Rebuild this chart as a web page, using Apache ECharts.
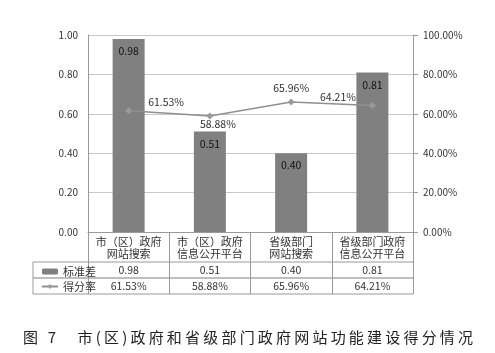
<!DOCTYPE html>
<html>
<head>
<meta charset="utf-8">
<script src="https://cdn.jsdelivr.net/npm/echarts@6/dist/echarts.min.js"></script>
<style>
body { margin: 0; background: #fff; }
#main { width: 495px; height: 353px; }
#caption {
  position: absolute; left: 23px; top: 326px;
  font-family: "Noto Sans CJK SC", sans-serif; font-size: 15px;
  letter-spacing: 3.2px; color: #222; white-space: pre;
}
</style>
</head>
<body>
<div id="main"></div>
<div id="caption">图 7　市(区)政府和省级部门政府网站功能建设得分情况</div>
<script>
// ==============================================================
// data
// ==============================================================
var categories = ['市（区）政府\n网站搜索', '市（区）政府\n信息公开平台', '省级部门\n网站搜索', '省级部门政府\n信息公开平台'];
var stdDev = [0.98, 0.51, 0.40, 0.81];          // 标准差
var scoreRate = [61.53, 58.88, 65.96, 64.21];   // 得分率 (%)
var leftTicks = [0, 0.2, 0.4, 0.6, 0.8, 1.0];
var rightTicks = [0, 20, 40, 60, 80, 100];

// grid geometry
var gl = 88, gr = 413, gt = 35, gb = 232;
var tableLeft = 33, row1 = 262, row2 = 278, row3 = 294;

var font = '"Noto Sans CJK SC", sans-serif';
var lineCol = '#9a9a9a';

var labelPos = [
    {position: 'right', offset: [11, -9]},
    {position: 'bottom', offset: [8, -6]},
    {position: 'top', offset: [0, 0]},
    {position: 'left', offset: [-8, -8]}
];

var myChart = echarts.init(document.getElementById('main'));

option = {
    backgroundColor: '#fff',
    textStyle: {fontFamily: font, color: '#333'},
    legend: {
        orient: 'vertical',
        left: 36,
        top: 261,
        itemGap: 4,
        itemWidth: 16,
        itemHeight: 6,
        textStyle: {fontSize: 11, color: '#333', fontFamily: font},
        data: ['标准差', '得分率']
    },
    grid: {left: gl, right: 495 - gr, top: gt, bottom: 353 - gb},
    xAxis: [
        {
            type: 'category',
            data: categories,
            boundaryGap: true,
            axisLine: {lineStyle: {color: lineCol}},
            axisTick: {show: true, length: row3 - gb, lineStyle: {color: lineCol}},
            axisLabel: {interval: 0, fontSize: 11, lineHeight: 12, margin: 4, color: '#333'}
        },
        {
            type: 'category',
            data: stdDev.map(function (v) { return v.toFixed(2); }),
            position: 'bottom',
            offset: row1 - gb,
            axisLine: {show: false},
            axisTick: {show: false},
            axisLabel: {interval: 0, fontSize: 10.5, margin: 3, color: '#333'}
        },
        {
            type: 'category',
            data: scoreRate.map(function (v) { return v.toFixed(2) + '%'; }),
            position: 'bottom',
            offset: row2 - gb,
            axisLine: {show: false},
            axisTick: {show: false},
            axisLabel: {interval: 0, fontSize: 10.5, margin: 3, color: '#333'}
        }
    ],
    yAxis: [
        {
            type: 'value',
            min: leftTicks[0],
            max: leftTicks[leftTicks.length - 1],
            interval: leftTicks[1] - leftTicks[0],
            axisLine: {show: true, lineStyle: {color: lineCol}},
            axisTick: {show: false},
            axisLabel: {fontSize: 10, margin: 10, color: '#333', formatter: function (v) { return v.toFixed(2); }},
            splitLine: {lineStyle: {color: '#c8c8c8'}}
        },
        {
            type: 'value',
            min: rightTicks[0],
            max: rightTicks[rightTicks.length - 1],
            interval: rightTicks[1] - rightTicks[0],
            axisLine: {show: true, lineStyle: {color: lineCol}},
            axisTick: {show: true, length: 5, lineStyle: {color: lineCol}},
            axisLabel: {fontSize: 10, margin: 10, color: '#333', formatter: function (v) { return v.toFixed(2) + '%'; }},
            splitLine: {show: false}
        }
    ],
    series: [
        {
            name: '标准差',
            type: 'bar',
            barWidth: 32,
            itemStyle: {color: '#808080'},
            label: {
                show: true, position: 'insideTop', distance: 7, fontSize: 10.5, color: '#111',
                formatter: function (p) { return p.value.toFixed(2); }
            },
            data: stdDev
        },
        {
            name: '得分率',
            type: 'line',
            yAxisIndex: 1,
            symbol: 'diamond',
            symbolSize: 7,
            lineStyle: {color: '#8f8f8f', width: 1.5},
            itemStyle: {color: '#9a9a9a'},
            label: {
                show: true, fontSize: 10.5, color: '#333',
                formatter: function (p) { return p.value.toFixed(2) + '%'; }
            },
            data: scoreRate.map(function (v, i) {
                return {value: v, label: labelPos[i]};
            })
        }
    ],
    graphic: [
        {type: 'line', shape: {x1: tableLeft, y1: row1, x2: gr, y2: row1}, style: {stroke: lineCol, lineWidth: 1}},
        {type: 'line', shape: {x1: tableLeft, y1: row2, x2: gr, y2: row2}, style: {stroke: '#a8a8a8', lineWidth: 1.5}},
        {type: 'line', shape: {x1: tableLeft, y1: row3, x2: gr, y2: row3}, style: {stroke: lineCol, lineWidth: 1}},
        {type: 'line', shape: {x1: tableLeft, y1: row1, x2: tableLeft, y2: row3}, style: {stroke: lineCol, lineWidth: 1}}
    ]
};

myChart.setOption(option, true);
</script>
</body>
</html>
